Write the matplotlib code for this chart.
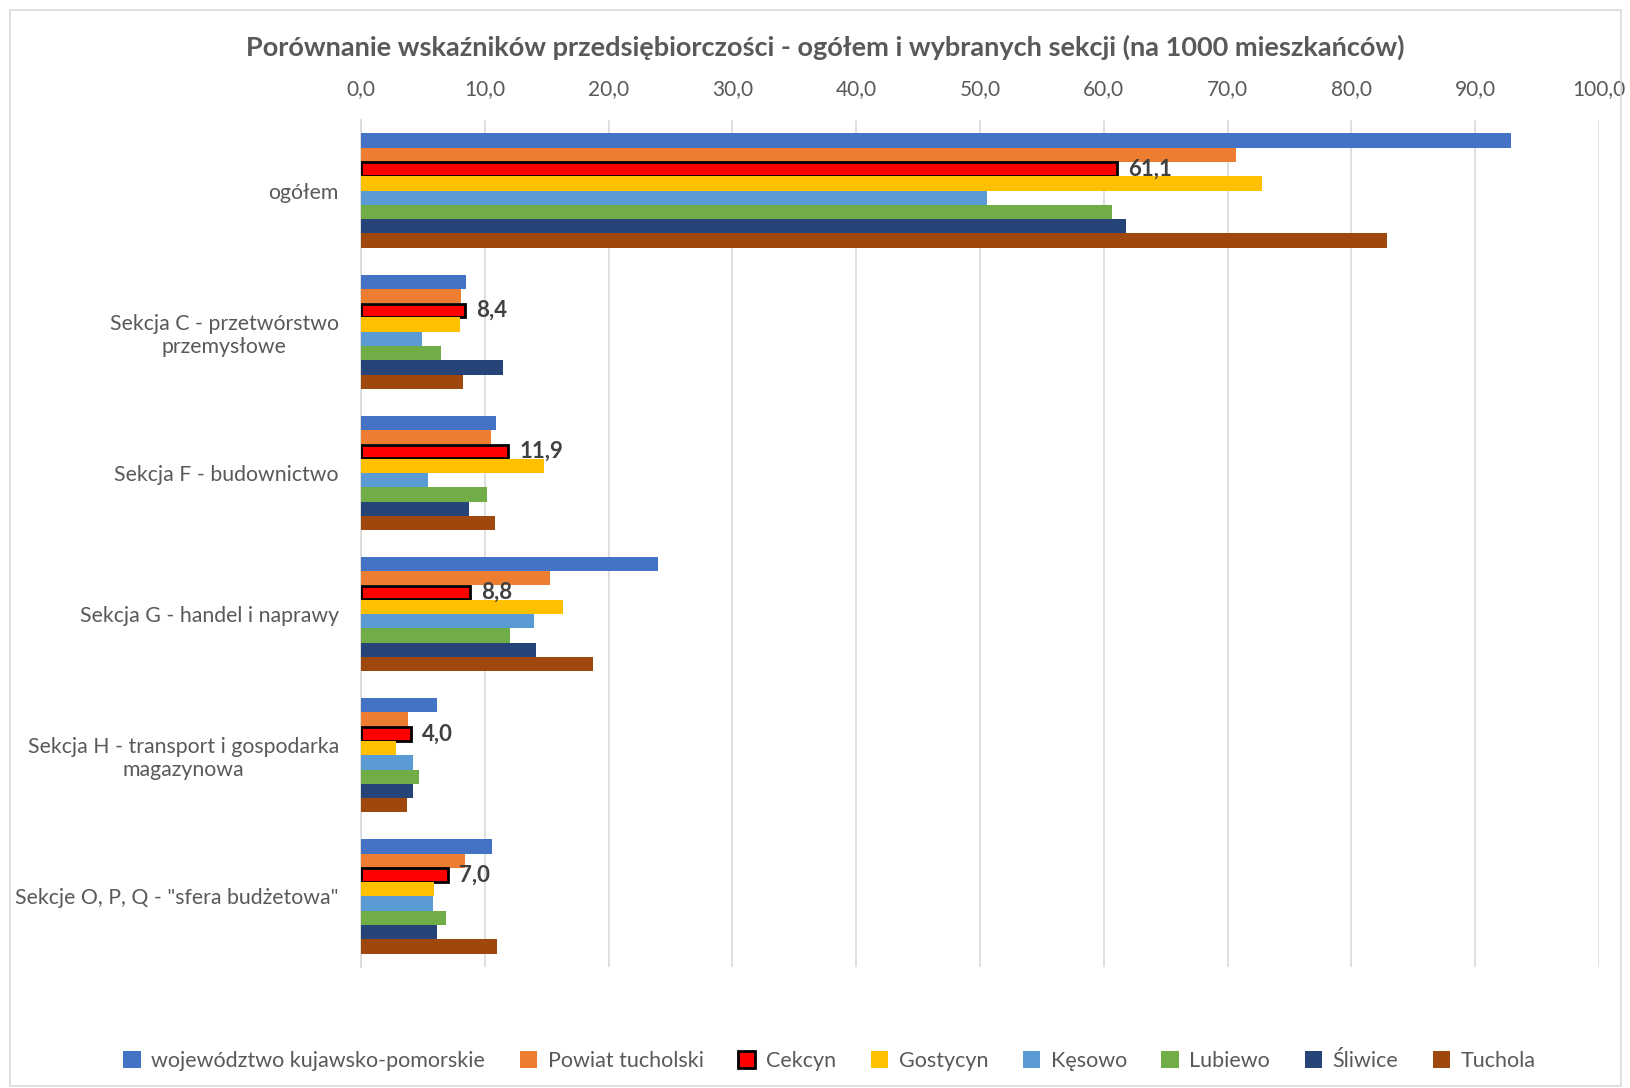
import matplotlib
matplotlib.use("Agg")
import matplotlib.pyplot as plt
import numpy as np
from matplotlib.patches import Rectangle

plt.rcParams['font.family'] = ['Lato', 'DejaVu Sans']

categories = ['ogółem', 'Sekcja C - przetwórstwo\nprzemysłowe', 'Sekcja F - budownictwo',
              'Sekcja G - handel i naprawy', 'Sekcja H - transport i gospodarka\nmagazynowa',
              'Sekcje O, P, Q - "sfera budżetowa"']
series_names = ['województwo kujawsko-pomorskie', 'Powiat tucholski', 'Cekcyn', 'Gostycyn',
                'Kęsowo', 'Lubiewo', 'Śliwice', 'Tuchola']
woj = [92.9, 8.5, 10.9, 24.0, 6.1, 10.6]
powiat = [70.7, 8.1, 10.5, 15.3, 3.8, 8.4]
cekcyn = [61.1, 8.4, 11.9, 8.8, 4.0, 7.0]
gostycyn = [72.8, 8.0, 14.8, 16.3, 2.8, 5.9]
kesowo = [50.6, 4.9, 5.4, 14.0, 4.2, 5.8]
lubiewo = [60.7, 6.5, 10.2, 12.0, 4.7, 6.9]
sliwice = [61.8, 11.5, 8.7, 14.1, 4.2, 6.1]
tuchola = [82.9, 8.2, 10.8, 18.7, 3.7, 11.0]
xticks = [0, 10, 20, 30, 40, 50, 60, 70, 80, 90, 100]
title = 'Porównanie wskaźników przedsiębiorczości - ogółem i wybranych sekcji (na 1000 mieszkańców)'

data = [woj, powiat, cekcyn, gostycyn, kesowo, lubiewo, sliwice, tuchola]
colors = ['#4472C4', '#ED7D31', '#FF0000', '#FFC000', '#5B9BD5', '#70AD47', '#264478', '#9E480E']

W, H = 1631, 1088
fig = plt.figure(figsize=(W/100, H/100), dpi=100)
ax = fig.add_axes([361/W, 1-967/H, (1599-361)/W, (967-120)/H])

n = len(data)
group_w = 0.81
bw = group_w / n
y = np.arange(len(categories))
for i, (vals, c) in enumerate(zip(data, colors)):
    pos = y - group_w/2 + bw*(i+0.5)
    if series_names[i] == 'Cekcyn':
        ax.barh(pos, vals, height=bw*0.95, color=c, edgecolor='black', linewidth=2,
                label=series_names[i], zorder=3)
        for p, v in zip(pos, vals):
            ax.text(v + 0.9, p, f'{v:.1f}'.replace('.', ','), va='center', ha='left',
                    fontsize=16, fontweight='bold', color='#404040', zorder=4)
    else:
        ax.barh(pos, vals, height=bw, color=c, label=series_names[i], zorder=3)

ax.set_ylim(len(categories)-0.5, -0.5)
ax.set_xlim(0, 100)
ax.set_xticks(xticks)
ax.set_xticklabels([f'{t:.1f}'.replace('.', ',') for t in xticks], fontsize=15, color='#595959')
ax.xaxis.tick_top()
ax.tick_params(axis='x', length=0, pad=15)
ax.set_yticks(y)
ax.set_yticklabels(categories, fontsize=15.3, color='#595959', multialignment='center')
ax.tick_params(axis='y', length=0, pad=16)
ax.grid(axis='x', color='#D9D9D9', linewidth=1.2, zorder=0)
for s in ['top', 'right', 'bottom']:
    ax.spines[s].set_visible(False)
ax.spines['left'].set_color('#D9D9D9')
ax.spines['left'].set_linewidth(1.2)

fig.text(0.5*(228+1358)/1568, 1-47/H, title, ha='center', va='center', fontsize=19.5,
         fontweight='bold', color='#595959')

handles, labels = ax.get_legend_handles_labels()
leg = fig.legend(handles, labels, loc='center', bbox_to_anchor=(0.5*(120+1475)/1568, 1-1061/H), ncol=8,
                 frameon=False, fontsize=15.5, handlelength=0.8, handleheight=0.8,
                 columnspacing=1.6, handletextpad=0.5)
for t in leg.get_texts():
    t.set_color('#595959')

fig.patches.append(Rectangle((10/W, 0.002), 1-20/W, 1-12/H, transform=fig.transFigure,
                             fill=False, edgecolor='#D9D9D9', linewidth=1.2))

fig.savefig('out.png', dpi=100)
